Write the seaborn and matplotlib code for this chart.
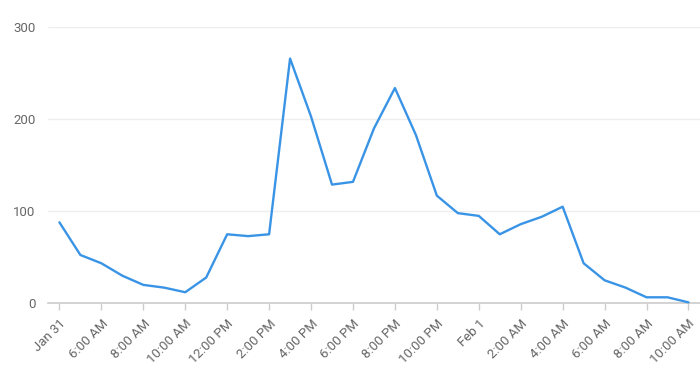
import matplotlib
matplotlib.use("Agg")
import matplotlib.pyplot as plt
import seaborn as sns
import pandas as pd

# Hourly counts from Jan 31, 4:00 AM to Feb 1, 10:00 AM
hours = list(range(31))
values = [88, 52.5, 43.5, 30, 20, 17, 12, 28, 75, 73, 75, 266, 203, 129, 132,
          190, 234, 183, 117, 98, 95, 75, 86, 94, 105, 43.5, 25, 17, 6.5, 6.5, 1]
tick_labels = ["Jan 31", "6:00 AM", "8:00 AM", "10:00 AM", "12:00 PM", "2:00 PM",
               "4:00 PM", "6:00 PM", "8:00 PM", "10:00 PM", "Feb 1", "2:00 AM",
               "4:00 AM", "6:00 AM", "8:00 AM", "10:00 AM"]
y_ticks = [0, 100, 200, 300]

sns.set_theme(style="white")
plt.rcParams['font.family'] = ['Roboto', 'DejaVu Sans']

df = pd.DataFrame({"hour": hours, "count": values})

fig = plt.figure(figsize=(7, 3.76), dpi=100)
ax = fig.add_axes([0.069, 0.1934, 0.931, 0.734])

sns.lineplot(data=df, x="hour", y="count", ax=ax, color="#3a94e6",
             linewidth=1.7, clip_on=False, zorder=3)

ax.set_xlim(-0.53, 30.55)
ax.set_ylim(0, 300)
ax.set_yticks(y_ticks)
ax.set_yticklabels([str(v) for v in y_ticks])
ax.set_xticks(hours[::2])
ax.set_xticklabels(tick_labels, rotation=45, ha="right", rotation_mode="anchor")

ax.set_xlabel("")
ax.set_ylabel("")

for sp in ["top", "right", "left"]:
    ax.spines[sp].set_visible(False)
ax.spines["bottom"].set_color("#cccccc")
ax.spines["bottom"].set_linewidth(1.2)

ax.yaxis.grid(True, color="#eeeeee", linewidth=1)
ax.set_axisbelow(True)

ax.tick_params(axis="x", length=5, width=1, color="#cccccc",
               labelsize=9.5, pad=5, bottom=True, labelcolor="#666666")
ax.tick_params(axis="y", length=0, labelsize=9.5, labelcolor="#666666", pad=9)

fig.savefig("out.png", dpi=100)
